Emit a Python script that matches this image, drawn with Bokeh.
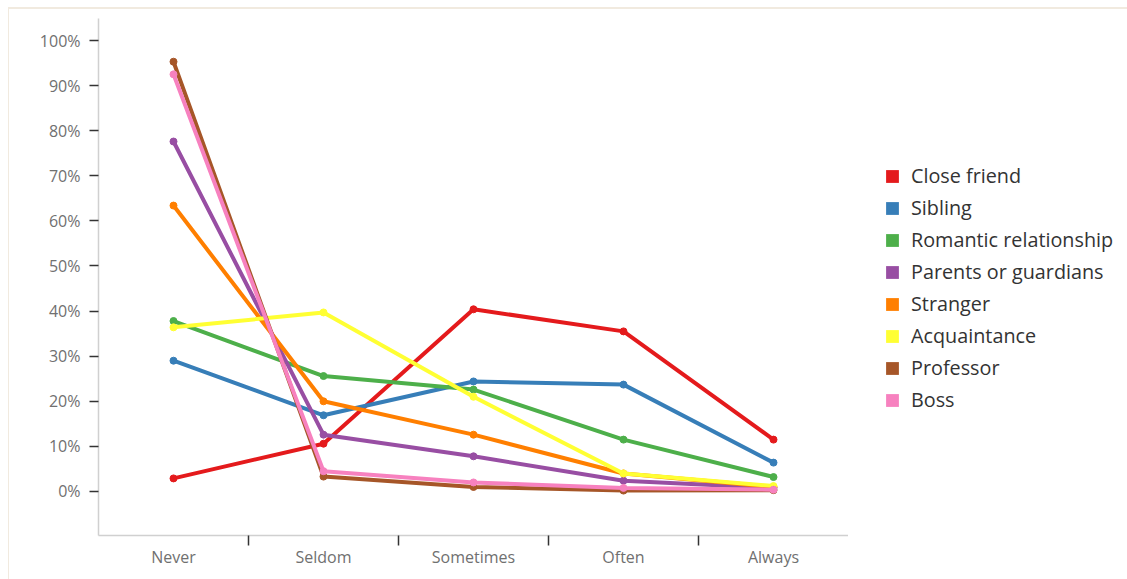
from bokeh.plotting import figure
from bokeh.layouts import row
from bokeh.models import (Range1d, FixedTicker, LinearAxis, PrintfTickFormatter,
                          Legend, LegendItem, ColumnDataSource)
from bokeh.embed import file_html
from bokeh.resources import INLINE

categories = ["Never", "Seldom", "Sometimes", "Often", "Always"]
series_names = ["Close friend", "Sibling", "Romantic relationship", "Parents or guardians",
                "Stranger", "Acquaintance", "Professor", "Boss"]
close_friend = [2.9, 10.6, 40.4, 35.5, 11.5]
sibling = [29.0, 16.9, 24.4, 23.7, 6.4]
romantic = [37.8, 25.6, 22.6, 11.5, 3.2]
parents = [77.6, 12.6, 7.8, 2.4, 0.8]
stranger = [63.4, 20.0, 12.6, 4.0, 1.0]
acquaintance = [36.4, 39.7, 21.0, 4.0, 1.2]
professor = [95.3, 3.3, 1.0, 0.2, 0.3]
boss = [92.5, 4.5, 2.0, 0.8, 0.4]
y_ticks = [0, 10, 20, 30, 40, 50, 60, 70, 80, 90, 100]

colors = ["#e41a1c", "#377eb8", "#4daf4a", "#984ea3", "#ff7f00", "#ffff33", "#a65628", "#f781bf"]
all_series = [close_friend, sibling, romantic, parents, stranger, acquaintance, professor, boss]

FONT = "Open Sans"

p = figure(width=839, height=570, output_backend="svg", toolbar_location=None,
           x_range=Range1d(0, len(categories)), y_range=Range1d(-9.76, 104.88),
           min_border_left=89, min_border_right=0, min_border_top=9, min_border_bottom=44,
           x_axis_type=None, y_axis_type=None)
p.outline_line_color = None
p.grid.visible = False
p.background_fill_color = "white"
p.border_fill_color = "white"

xs = [i + 0.5 for i in range(len(categories))]

# x axis: labels at category centres, tick marks at category boundaries
xaxis = LinearAxis(ticker=FixedTicker(ticks=xs, minor_ticks=[i for i in range(1, len(categories))]),
                   major_label_overrides={x: c for x, c in zip(xs, categories)})
xaxis.major_tick_line_color = None
xaxis.major_tick_out = 0
xaxis.major_tick_in = 0
xaxis.minor_tick_line_color = "#333333"
xaxis.minor_tick_line_width = 1.5
xaxis.minor_tick_out = 10
xaxis.minor_tick_in = 0
xaxis.axis_line_color = "#d0d0d0"
xaxis.axis_line_width = 1.5
xaxis.major_label_standoff = 0
xaxis.major_label_text_font = FONT
xaxis.major_label_text_font_size = "16px"
xaxis.major_label_text_color = "#707070"
p.add_layout(xaxis, "below")

yaxis = LinearAxis(ticker=FixedTicker(ticks=y_ticks, minor_ticks=[]),
                   formatter=PrintfTickFormatter(format="%d%%"))
yaxis.major_tick_line_color = "#333333"
yaxis.major_tick_line_width = 1.5
yaxis.major_tick_out = 9
yaxis.major_tick_in = 0
yaxis.minor_tick_line_color = None
yaxis.axis_line_color = "#d0d0d0"
yaxis.axis_line_width = 1.5
yaxis.major_label_standoff = 9
yaxis.major_label_text_font = FONT
yaxis.major_label_text_font_size = "16px"
yaxis.major_label_text_color = "#707070"
p.add_layout(yaxis, "left")

# separate panel holding the legend (to the right of the plot frame)
lg = figure(width=279, height=570, output_backend="svg", toolbar_location=None,
            x_range=Range1d(0, len(categories)), y_range=Range1d(-9.76, 104.88),
            min_border_left=0, min_border_right=0, min_border_top=0, min_border_bottom=0,
            x_axis_type=None, y_axis_type=None)
lg.outline_line_color = None
lg.grid.visible = False

items = []
for name, vals, col in zip(series_names, all_series, colors):
    src = ColumnDataSource(dict(x=xs, y=vals))
    p.line("x", "y", source=src, line_color=col, line_width=4, line_join="round")
    p.scatter("x", "y", source=src, size=7, fill_color=col, line_color=col)
    # zero-area swatch glyphs: invisible in the panel, drawn as filled squares in the legend
    sw = lg.quad(left="x", right="x", top="y", bottom="y", source=src,
                 fill_color=col, line_color=None)
    items.append(LegendItem(label=name, renderers=[sw]))

legend = Legend(items=items, location=(36, 122), orientation="vertical")
legend.glyph_width = 16
legend.glyph_height = 16
legend.label_height = 22
legend.spacing = 5
legend.padding = 0
legend.margin = 0
legend.label_standoff = 11
legend.border_line_color = None
legend.background_fill_alpha = 0
legend.label_text_font = FONT
legend.label_text_font_size = "19.8px"
legend.label_text_color = "#333333"
lg.add_layout(legend, "center")

layout = row(p, lg, spacing=0)
layout.styles = {"margin-left": "8px", "margin-top": "7px",
                 "border-top": "2px solid #f1eadf", "border-left": "1px solid #f1eadf"}

open("out.html", "w").write(file_html(layout, INLINE))
